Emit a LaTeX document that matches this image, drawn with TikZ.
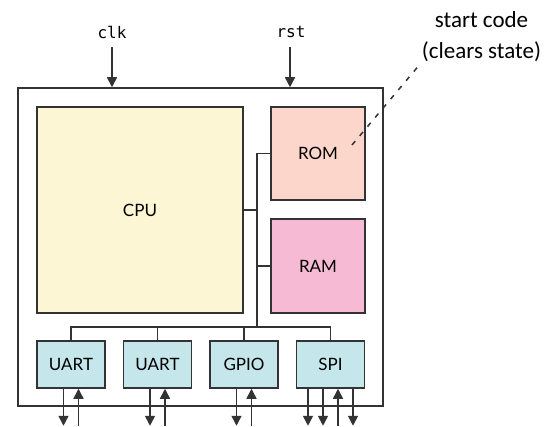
\documentclass[tikz,border=0pt]{standalone}
\usepackage{fontspec}
\setmainfont{Lato}
\setmonofont{DejaVu Sans Mono}
\newfontfamily\notefont{Carlito}
\usepackage{tikz}
\usetikzlibrary{arrows.meta, positioning, calc}
\definecolor{chipline}{HTML}{333333}
\definecolor{cpufill}{HTML}{FCF6D4}
\definecolor{romfill}{HTML}{FDD6CB}
\definecolor{ramfill}{HTML}{F6BAD4}
\definecolor{perifill}{HTML}{C5E7EC}

\begin{document}
\begin{tikzpicture}[x=1pt, y=-1pt,
    block/.style={rectangle, draw=chipline, line width=1.5pt, font=\fontsize{17}{20}\selectfont, inner sep=0pt},
    periph/.style={block, fill=perifill, minimum width=68pt, minimum height=47pt},
    wire/.style={chipline, line width=1.3pt},
    sig/.style={chipline, line width=1.5pt, -{Triangle[width=10pt,length=10pt]}},
    pin/.style={font=\ttfamily\fontsize{16}{19}\selectfont, inner sep=2pt}]
    \useasboundingbox (0,0) rectangle (556,427);

    % Chip outline
    \node[rectangle, draw=chipline, line width=1.5pt, minimum width=365pt, minimum height=318pt] (chip) at (200.5,247) {};

    % Core blocks
    \node[block, fill=cpufill, minimum width=206pt, minimum height=206pt] (cpu) at (140,210) {CPU};
    \node[block, fill=romfill, minimum width=94pt, minimum height=93pt] (rom) at (318,153.5) {ROM};
    \node[block, fill=ramfill, minimum width=94pt, minimum height=94pt] (ram) at (318,266) {RAM};

    % Peripherals
    \node[periph] (uarta) at (71,364.5) {UART};
    \node[periph] (uartb) at (157.5,364.5) {UART};
    \node[periph] (gpio) at (244,364.5) {GPIO};
    \node[periph] (spi) at (330.5,364.5) {SPI};

    % Bus
    \coordinate (bus) at (257,0);
    \coordinate (hbus) at (0,327);
    \draw[wire] (rom.west) -- (rom.west -| bus) -- (bus |- hbus);
    \draw[wire] (cpu.east) -- (cpu.east -| bus);
    \draw[wire] (ram.west) -- (ram.west -| bus);
    \draw[wire] (uarta.north) -- (uarta.north |- hbus) -- (spi.north |- hbus) -- (spi.north);
    \draw[wire] (uartb.north) -- (uartb.north |- hbus);
    \draw[wire] (gpio.north) -- (gpio.north |- hbus);

    % Clock and reset
    \node[pin] (clk) at (112,32) {clk};
    \node[pin] (rst) at (291,32) {rst};
    \coordinate (clkin) at (112,47);
    \coordinate (rstin) at (290,47);
    \draw[sig] (clkin) -- (clkin |- chip.north);
    \draw[sig] (rstin) -- (rstin |- chip.north);

    % Pins
    \foreach \blk/\dx/\dir in {uarta/-7.5/o, uarta/7.5/i, uartb/-7.5/o, uartb/7.5/i,
                              gpio/-7.5/o, gpio/7.5/i,
                              spi/-22.5/o, spi/-7.5/o, spi/7.5/i, spi/22.5/o} {
        \coordinate (pa) at ([xshift=\dx pt]\blk.south);
        \coordinate (pb) at ([xshift=\dx pt, yshift=-37pt]\blk.south);
        \if o\dir
            \draw[sig] (pa) -- (pb);
        \else
            \draw[sig] (pb) -- (pa);
        \fi
    }

    % Annotation
    \node[align=center, font=\notefont\fontsize{23}{31}\selectfont, inner sep=0pt] (note) at (481.5,37) {start code\\(clears state)};
    \coordinate (romspot) at (352,145);
    \coordinate (notetip) at (421,63);
    \draw[chipline, line width=1.5pt, dash pattern=on 5pt off 7pt] (romspot) -- (notetip);
\end{tikzpicture}
\end{document}
